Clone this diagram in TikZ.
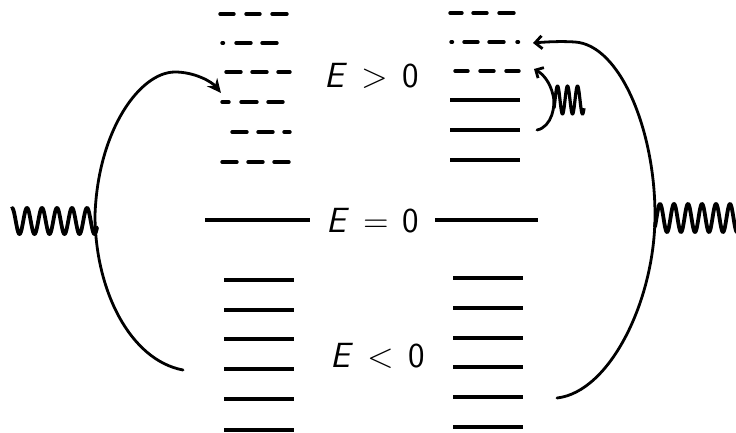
\documentclass[tikz,border=0pt]{standalone}
\usepackage{fontspec}
\setsansfont{Latin Modern Sans}
\usetikzlibrary{arrows.meta}
\begin{document}
\begin{tikzpicture}[x=1pt,y=-1pt,
  level/.style={line width=3.4pt},
  dlevel/.style={line width=3.4pt, line cap=round},
  ray/.style={line width=2.8pt, line cap=round},
  wave/.style={line width=3.8pt, line join=round, line cap=round},
  lbl/.style={font=\fontsize{35}{40}\selectfont\sffamily, anchor=base, inner sep=0pt}]
\useasboundingbox (0,0) rectangle (736,433);

% broken (continuum) levels, left column
\foreach \y/\segs in {14/{220/234,246/260,272/287},
                      43/{222/223.5,236/251,262/277},
                      72/{226/241,252/267,278/290},
                      102/{222/229,241/257,268/283},
                      132/{232/247,258/273,284/290},
                      162/{222/237,248/263,274/289}}
  {\foreach \a/\b in \segs {\draw[dlevel] (\a,\y) -- (\b,\y);}}

% broken levels, right column
\foreach \y/\segs in {13/{450/462,473/487,499/514},
                      42/{451/452.5,464/478,489/504,517/518.5},
                      71/{455/468,480/494,506/519}}
  {\foreach \a/\b in \segs {\draw[dlevel] (\a,\y) -- (\b,\y);}}

% solid levels above zero, right column
\foreach \y in {100,130,160} \draw[level] (450,\y) -- (520,\y);

% bound levels
\foreach \y in {280,310,339,369,399,430} \draw[level] (224,\y) -- (294,\y);
\foreach \y in {278,308,338,367,397,427} \draw[level] (453,\y) -- (523,\y);

% zero line
\draw[level] (205,220) -- (310,220);
\draw[level] (435,220) -- (538,220);

% labels
\node[lbl] (pos) at (372,88) {\textit{E}\hspace{0.4em}>\hspace{0.4em}0};
\node[lbl] (zero) at (373,232) {\textit{E}\hspace{0.4em}=\hspace{0.4em}0};
\node[lbl] (neg) at (378,367) {\textit{E}\hspace{0.4em}<\hspace{0.4em}0};

% transition points
\coordinate (lfrom) at (183,370);
\coordinate (ltip) at (221,93);
\coordinate (rfrom) at (557,398);
\coordinate (rtip) at (533,43);
\coordinate (sfrom) at (537,130);
\coordinate (stip) at (534,69);

% left transition
\draw[ray, -{Stealth[length=14pt,width=13pt]}] (lfrom)
  .. controls (130,360) and (95,290) .. (95,215)
  .. controls (98,130) and (140,72) .. (175,72)
  .. controls (195,72) and (212,82) .. (ltip);

% right transition
\draw[ray, -{Straight Barb[length=7pt,width=13pt]}] (rfrom)
  .. controls (610,392) and (655,300) .. (655,215)
  .. controls (655,130) and (620,45) .. (575,42)
  .. controls (560,41) and (545,42) .. (rtip);

% small transition inside the continuum
\draw[ray, -{Straight Barb[length=6pt,width=12pt]}] (sfrom)
  .. controls (552,127) and (556,105) .. (553,95)
  .. controls (550,82) and (543,74) .. (stip);

% photons
\draw[wave] plot[domain=12:97, samples=240] (\x,{221-13*cos(24*(\x-12))});
\draw[wave] plot[domain=655:740, samples=240] (\x,{218-14*cos(25.714*(\x-660))});
\draw[line width=3.2pt, line join=round] plot[domain=554:584, samples=120] (\x,{100-14*sin(36*(\x-555))});
\end{tikzpicture}
\end{document}
